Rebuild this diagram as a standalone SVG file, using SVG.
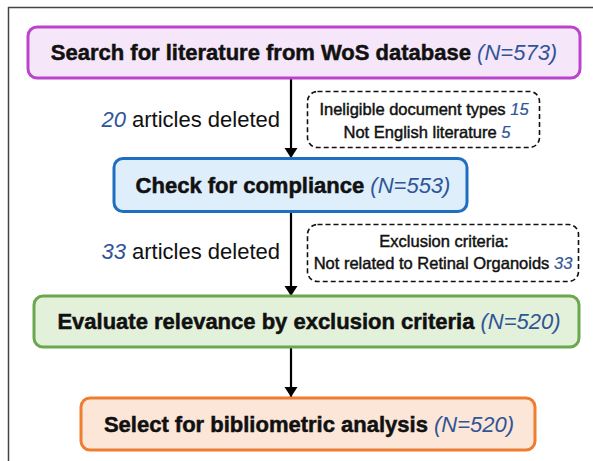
<svg xmlns="http://www.w3.org/2000/svg" width="593" height="461" viewBox="0 0 593 461">
<defs>
<marker id="ah" viewBox="0 0 10 14" refX="10" refY="7" markerWidth="10" markerHeight="14" markerUnits="userSpaceOnUse" orient="auto">
<path d="M0,0.5 L10,7 L0,13.5 z" fill="#000"/>
</marker>
<style>
.main{font-family:"Liberation Sans",Arial,sans-serif;font-weight:bold;font-size:22px;fill:#111;stroke:#111;stroke-width:0.5;}
.n{font-weight:normal;font-style:italic;fill:#2f5597;stroke:none;}
.lbl{font-family:"Liberation Sans",Arial,sans-serif;font-size:22px;fill:#111;}
.sm{font-family:"Liberation Sans",Arial,sans-serif;font-size:16.5px;fill:#111;stroke:#111;stroke-width:0.45;}
.smn{font-style:italic;fill:#2f5597;stroke:#2f5597;stroke-width:0.2;}
.dash{fill:none;stroke:#111;stroke-width:1.6;stroke-dasharray:5 3;}
.conn{stroke:#000;stroke-width:2.2;fill:none;}
</style>
</defs>
<g id="frame">
<path d="M8,7.5 H593 M8.5,7 V461" stroke="#444" stroke-width="1.5" fill="none"/>
</g>
<g id="connectors">
<line class="conn" x1="291" y1="79" x2="291" y2="158" marker-end="url(#ah)"/>
<line class="conn" x1="291" y1="212" x2="291" y2="296" marker-end="url(#ah)"/>
<line class="conn" x1="291" y1="347" x2="291" y2="397" marker-end="url(#ah)"/>
</g>
<g id="node-search">
<rect x="28" y="27" width="552" height="51" rx="9" fill="#f6e6f9" stroke="#bb44cc" stroke-width="3"/>
<text class="main" x="304" y="60" text-anchor="middle">Search for literature from WoS database <tspan class="n">(N=573)</tspan></text>
</g>
<g id="note-1">
<rect class="dash" x="307.5" y="91.5" width="232" height="56" rx="10"/>
<text class="sm" x="424" y="114.5" text-anchor="middle">Ineligible document types <tspan class="smn">15</tspan></text>
<text class="sm" x="427" y="137.5" text-anchor="middle">Not English literature <tspan class="smn">5</tspan></text>
</g>
<g id="label-1">
<text class="lbl" x="280" y="127" text-anchor="end"><tspan class="n">20</tspan> articles deleted</text>
</g>
<g id="node-check">
<rect x="114" y="158.5" width="353" height="53" rx="9" fill="#deeefb" stroke="#1f6fc0" stroke-width="3"/>
<text class="main" x="293" y="193" text-anchor="middle">Check for compliance <tspan class="n">(N=553)</tspan></text>
</g>
<g id="note-2">
<rect class="dash" x="307.5" y="224.5" width="271" height="57" rx="10"/>
<text class="sm" x="444" y="246.5" text-anchor="middle">Exclusion criteria:</text>
<text class="sm" x="443" y="268.5" text-anchor="middle">Not related to Retinal Organoids <tspan class="smn">33</tspan></text>
</g>
<g id="label-2">
<text class="lbl" x="280" y="259" text-anchor="end"><tspan class="n">33</tspan> articles deleted</text>
</g>
<g id="node-evaluate">
<rect x="34" y="296" width="545" height="51" rx="9" fill="#e3f0da" stroke="#6aa84f" stroke-width="3"/>
<text class="main" x="309" y="329" text-anchor="middle">Evaluate relevance by exclusion criteria <tspan class="n">(N=520)</tspan></text>
</g>
<g id="node-select">
<rect x="81" y="398" width="454" height="52" rx="9" fill="#fce6d8" stroke="#ed7d31" stroke-width="3"/>
<text class="main" x="309" y="432" text-anchor="middle">Select for bibliometric analysis <tspan class="n">(N=520)</tspan></text>
</g>
</svg>
